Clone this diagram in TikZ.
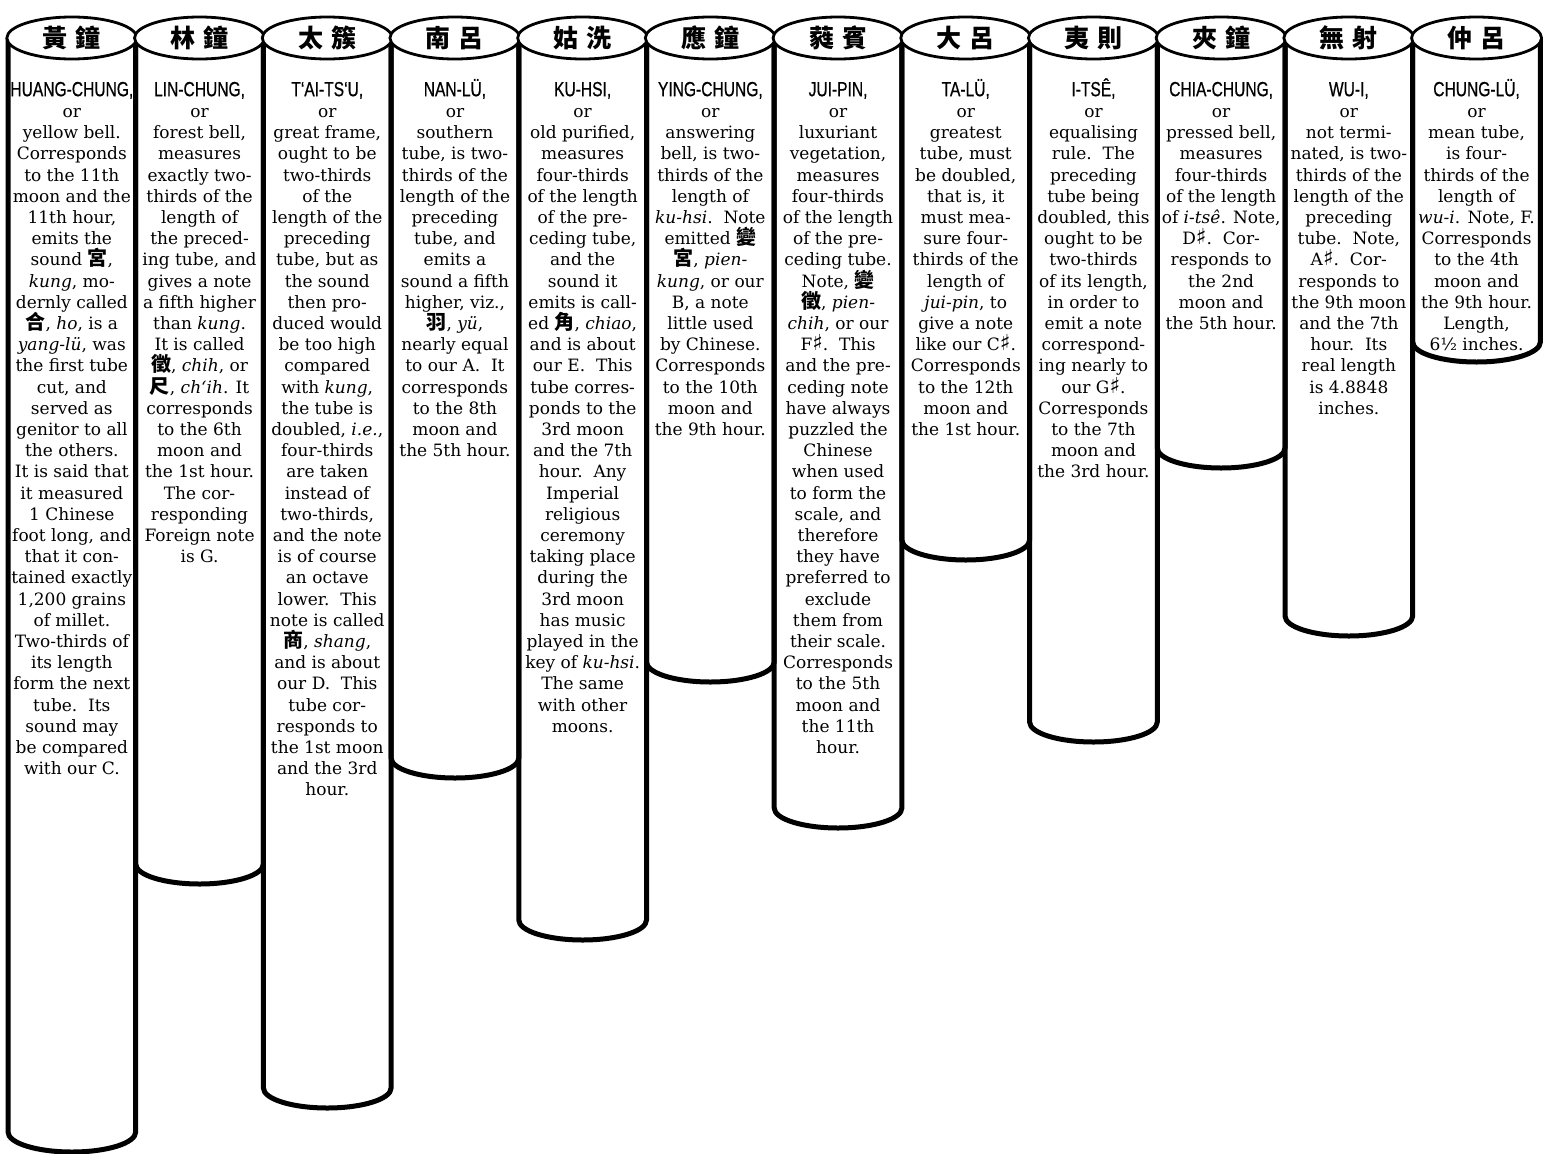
\documentclass[tikz,border=0pt]{standalone}
\usepackage{fontspec}
\usepackage{tikz}
\usetikzlibrary{shapes.geometric, positioning}
\setmainfont{DejaVu Serif}
\newfontfamily\cjk{Noto Sans CJK TC}
\newfontfamily\capfont[FakeStretch=0.76, FakeBold=0.6]{Liberation Sans}
\newfontfamily\symfont{DejaVu Sans}
\newcommand{\zh}[1]{{\cjk\bfseries\fontsize{20}{21.2}\selectfont #1}}
\newcommand{\shp}{{\symfont\bfseries\fontsize{22}{21.2}\selectfont ♯}}
\newcommand{\tubename}[1]{{\capfont\fontsize{20.5}{21.2}\selectfont\rule{0pt}{18pt}#1}}

\begin{document}
\begin{tikzpicture}[
  x=1pt, y=-1pt,
  wall/.style={line width=5pt, line join=round},
  capell/.style={ellipse, draw, line width=2.8pt, fill=white, minimum width=130pt,
                 minimum height=42pt, inner sep=0pt, font=\cjk\bfseries\fontsize{25}{25}\selectfont},
  tubetext/.style={align=center, anchor=north, inner sep=0pt, font=\fontsize{17}{21.2}\selectfont}
]
  \useasboundingbox[fill=white] (0,0) rectangle (1543,1154);

  % texts of the twelve lü
  \node[tubetext] (t1) at (71.85,78) {\tubename{HUANG-CHUNG,}\\or\\yellow bell.\\Corresponds\\to the 11th\\moon and the\\11th hour,\\emits the\\sound \zh{宮},\\\textit{kung}, mo-\\dernly called\\\zh{合}, \textit{ho}, is a\\\textit{yang-lü}, was\\the first tube\\cut, and\\served as\\genitor to all\\the others.\\It is said that\\it measured\\1 Chinese\\foot long, and\\that it con-\\tained exactly\\1,200 grains\\of millet.\\Two-thirds of\\its length\\form the next\\tube.\ \ Its\\sound may\\be compared\\with our C.};
  \node[tubetext] (t2) at (199.55,78) {\tubename{LIN-CHUNG,}\\or\\forest bell,\\measures\\exactly two-\\thirds of the\\length of\\the preced-\\ing tube, and\\gives a note\\a fifth higher\\than \textit{kung}.\\It is called\\\zh{徵}, \textit{chih}, or\\\zh{尺}, \textit{ch‘ih}. It\\corresponds\\to the 6th\\moon and\\the 1st hour.\\The cor-\\responding\\Foreign note\\is G.};
  \node[tubetext] (t3) at (327.25,78) {\tubename{T‘AI-TS‘U,}\\or\\great frame,\\ought to be\\two-thirds\\of the\\length of the\\preceding\\tube, but as\\the sound\\then pro-\\duced would\\be too high\\compared\\with \textit{kung},\\the tube is\\doubled, \textit{i.e.},\\four-thirds\\are taken\\instead of\\two-thirds,\\and the note\\is of course\\an octave\\lower.\ \ This\\note is called\\\zh{商}, \textit{shang},\\and is about\\our D.\ \ This\\tube cor-\\responds to\\the 1st moon\\and the 3rd\\hour.};
  \node[tubetext] (t4) at (454.95,78) {\tubename{NAN-LÜ,}\\or\\southern\\tube, is two-\\thirds of the\\length of the\\preceding\\tube, and\\emits a\\sound a fifth\\higher, viz.,\\\zh{羽}, \textit{yü},\\nearly equal\\to our A.\ \ It\\corresponds\\to the 8th\\moon and\\the 5th hour.};
  \node[tubetext] (t5) at (582.65,78) {\tubename{KU-HSI,}\\or\\old purified,\\measures\\four-thirds\\of the length\\of the pre-\\ceding tube,\\and the\\sound it\\emits is call-\\ed \zh{角}, \textit{chiao},\\and is about\\our E.\ \ This\\tube corres-\\ponds to the\\3rd moon\\and the 7th\\hour.\ \ Any\\Imperial\\religious\\ceremony\\taking place\\during the\\3rd moon\\has music\\played in the\\key of \textit{ku-hsi}.\\The same\\with other\\moons.};
  \node[tubetext] (t6) at (710.35,78) {\tubename{YING-CHUNG,}\\or\\answering\\bell, is two-\\thirds of the\\length of\\\textit{ku-hsi}.\ \ Note\\emitted \zh{變}\\\zh{宮}, \textit{pien-}\\\textit{kung}, or our\\B, a note\\little used\\by Chinese.\\Corresponds\\to the 10th\\moon and\\the 9th hour.};
  \node[tubetext] (t7) at (838.05,78) {\tubename{JUI-PIN,}\\or\\luxuriant\\vegetation,\\measures\\four-thirds\\of the length\\of the pre-\\ceding tube.\\Note, \zh{變}\\\zh{徵}, \textit{pien-}\\\textit{chih}, or our\\F\shp.\ \ This\\and the pre-\\ceding note\\have always\\puzzled the\\Chinese\\when used\\to form the\\scale, and\\therefore\\they have\\preferred to\\exclude\\them from\\their scale.\\Corresponds\\to the 5th\\moon and\\the 11th\\hour.};
  \node[tubetext] (t8) at (965.75,78) {\tubename{TA-LÜ,}\\or\\greatest\\tube, must\\be doubled,\\that is, it\\must mea-\\sure four-\\thirds of the\\length of\\\textit{jui-pin}, to\\give a note\\like our C\shp.\\Corresponds\\to the 12th\\moon and\\the 1st hour.};
  \node[tubetext] (t9) at (1093.45,78) {\tubename{I-TSÊ,}\\or\\equalising\\rule.\ \ The\\preceding\\tube being\\doubled, this\\ought to be\\two-thirds\\of its length,\\in order to\\emit a note\\correspond-\\ing nearly to\\our G\shp.\\Corresponds\\to the 7th\\moon and\\the 3rd hour.};
  \node[tubetext] (t10) at (1221.15,78) {\tubename{CHIA-CHUNG,}\\or\\pressed bell,\\measures\\four-thirds\\of the length\\of \textit{i-tsê}. Note,\\D\shp.\ \ Cor-\\responds to\\the 2nd\\moon and\\the 5th hour.};
  \node[tubetext] (t11) at (1348.85,78) {\tubename{WU-I,}\\or\\not termi-\\nated, is two-\\thirds of the\\length of the\\preceding\\tube.\ \ Note,\\A\shp.\ \ Cor-\\responds to\\the 9th moon\\and the 7th\\hour.\ \ Its\\real length\\is 4.8848\\inches.};
  \node[tubetext] (t12) at (1476.55,78) {\tubename{CHUNG-LÜ,}\\or\\mean tube,\\is four-\\thirds of the\\length of\\\textit{wu-i}. Note, F.\\Corresponds\\to the 4th\\moon and\\the 9th hour.\\Length,\\6½ inches.};

  % tube walls, cut off below by the front half of an ellipse
  \draw[wall] (8,38) -- (8,1132) arc[start angle=180, end angle=0, x radius=63.85, y radius=20] -- (135.7,38);
  \draw[wall] (135.7,38) -- (135.7,864) arc[start angle=180, end angle=0, x radius=63.85, y radius=20] -- (263.4,38);
  \draw[wall] (263.4,38) -- (263.4,1088) arc[start angle=180, end angle=0, x radius=63.85, y radius=20] -- (391.1,38);
  \draw[wall] (391.1,38) -- (391.1,758) arc[start angle=180, end angle=0, x radius=63.85, y radius=20] -- (518.8,38);
  \draw[wall] (518.8,38) -- (518.8,920) arc[start angle=180, end angle=0, x radius=63.85, y radius=20] -- (646.5,38);
  \draw[wall] (646.5,38) -- (646.5,662) arc[start angle=180, end angle=0, x radius=63.85, y radius=20] -- (774.2,38);
  \draw[wall] (774.2,38) -- (774.2,808) arc[start angle=180, end angle=0, x radius=63.85, y radius=20] -- (901.9,38);
  \draw[wall] (901.9,38) -- (901.9,540) arc[start angle=180, end angle=0, x radius=63.85, y radius=20] -- (1029.6,38);
  \draw[wall] (1029.6,38) -- (1029.6,722) arc[start angle=180, end angle=0, x radius=63.85, y radius=20] -- (1157.3,38);
  \draw[wall] (1157.3,38) -- (1157.3,448) arc[start angle=180, end angle=0, x radius=63.85, y radius=20] -- (1285,38);
  \draw[wall] (1285,38) -- (1285,616) arc[start angle=180, end angle=0, x radius=63.85, y radius=20] -- (1412.7,38);
  \draw[wall] (1412.7,38) -- (1412.7,342) arc[start angle=180, end angle=0, x radius=63.85, y radius=20] -- (1540.4,38);

  % mouths of the tubes
  \node[capell] (c1) at (71.85,38) {黃\hspace{8pt}鐘};
  \node[capell] (c2) at (199.55,38) {林\hspace{8pt}鐘};
  \node[capell] (c3) at (327.25,38) {太\hspace{8pt}簇};
  \node[capell] (c4) at (454.95,38) {南\hspace{8pt}呂};
  \node[capell] (c5) at (582.65,38) {姑\hspace{8pt}洗};
  \node[capell] (c6) at (710.35,38) {應\hspace{8pt}鐘};
  \node[capell] (c7) at (838.05,38) {蕤\hspace{8pt}賓};
  \node[capell] (c8) at (965.75,38) {大\hspace{8pt}呂};
  \node[capell] (c9) at (1093.45,38) {夷\hspace{8pt}則};
  \node[capell] (c10) at (1221.15,38) {夾\hspace{8pt}鐘};
  \node[capell] (c11) at (1348.85,38) {無\hspace{8pt}射};
  \node[capell] (c12) at (1476.55,38) {仲\hspace{8pt}呂};
\end{tikzpicture}
\end{document}
